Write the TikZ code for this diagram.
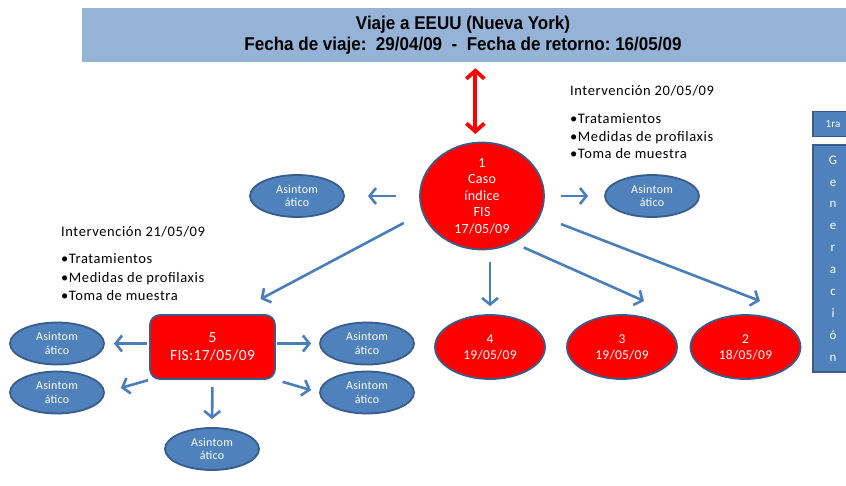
\documentclass[tikz,border=0pt]{standalone}
\usepackage{fontspec}
\setmainfont{Carlito}
\newfontfamily\bodyf[LetterSpace=2]{Carlito}
\newfontfamily\notef[LetterSpace=4]{Carlito}
\newfontfamily\titlef[FakeStretch=0.92]{Liberation Sans}
\usetikzlibrary{shapes.geometric,arrows.meta}
\definecolor{bannerc}{HTML}{95B3D7}
\definecolor{ablue}{HTML}{4F81BD}
\definecolor{bord}{HTML}{385D8A}
\definecolor{arrc}{HTML}{4A7EBB}
\definecolor{redc}{HTML}{FF0000}
\begin{document}
\begin{tikzpicture}[x=1pt,y=-1pt,
  asint/.style={ellipse, draw=bord, fill=ablue, line width=1.8pt, minimum width=94pt, minimum height=42pt, inner sep=0pt, text=white, align=center, font=\bodyf\fontsize{12}{13.5}\selectfont},
  redell/.style={ellipse, draw=bord, fill=redc, line width=1.8pt, inner sep=0pt, text=white, align=center},
  arr/.style={draw=arrc, line width=2.6pt, -{Straight Barb[length=6.5pt,width=16pt]}},
  redarr/.style={draw=redc, line width=3.8pt, {Straight Barb[length=8pt,width=18pt]}-{Straight Barb[length=8pt,width=18pt]}},
  sidebox/.style={rectangle, draw=bord, fill=ablue, line width=1.8pt, inner sep=0pt, text=white, align=center, font=\bodyf\fontsize{13}{21.9}\selectfont},
  plain/.style={anchor=west, inner sep=0pt, align=left, text=black}
]
\useasboundingbox (0,0) rectangle (846,485);

% banner
\node[rectangle, fill=bannerc, minimum width=778pt, minimum height=54pt, inner sep=0pt] (banner) at (471,35) {};
\node[align=center, inner sep=0pt, font=\titlef\bfseries\fontsize{18.5}{21}\selectfont] (title) at (463,35)
  {Viaje a EEUU (Nueva York)\\Fecha de viaje:\ \ 29/04/09\ \ -\ \ Fecha de retorno:\ 16/05/09};

% index case
\node[redell, minimum width=124pt, minimum height=102pt, font=\bodyf\fontsize{14}{16.5}\selectfont] (case) at (482,196)
  {1\\Caso\\índice\\FIS\\17/05/09};

% first level asymptomatic
\node[asint] (aL) at (297,196) {Asintom\\ático};
\node[asint] (aR) at (652,196) {Asintom\\ático};

% secondary cases
\node[redell, minimum width=110pt, minimum height=64pt, font=\bodyf\fontsize{13.5}{16}\selectfont] (n4) at (490,347) {4\\19/05/09};
\node[redell, minimum width=110pt, minimum height=64pt, font=\bodyf\fontsize{13.5}{16}\selectfont] (n3) at (622,347) {3\\19/05/09};
\node[redell, minimum width=110pt, minimum height=64pt, font=\bodyf\fontsize{13.5}{16}\selectfont] (n2) at (745.5,347) {2\\18/05/09};

\node[rectangle, rounded corners=10pt, draw=bord, fill=redc, line width=1.8pt, inner sep=0pt, minimum width=125pt, minimum height=64pt, text=white, align=center, font=\bodyf\fontsize{15.5}{18}\selectfont] (box5) at (212.5,347) {5\\FIS:17/05/09};

\node[asint] (a5lt) at (57,343.5) {Asintom\\ático};
\node[asint] (a5lb) at (57,392.5) {Asintom\\ático};
\node[asint] (a5rt) at (367,343.5) {Asintom\\ático};
\node[asint] (a5rb) at (367,392.5) {Asintom\\ático};
\node[asint] (a5b) at (212,449) {Asintom\\ático};

% interventions
\node[plain, font=\notef\fontsize{14.5}{17.5}\selectfont] (int1) at (570,91) {Intervención 20/05/09};
\node[plain, font=\notef\fontsize{14.5}{17.5}\selectfont] (bul1) at (570,136.5) {•Tratamientos\\•Medidas de profilaxis\\•Toma de muestra};
\node[plain, font=\notef\fontsize{14.5}{18.5}\selectfont] (int2) at (61,232) {Intervención 21/05/09};
\node[plain, font=\notef\fontsize{14.5}{18.5}\selectfont] (bul2) at (61,277.5) {•Tratamientos\\•Medidas de profilaxis\\•Toma de muestra};

% side boxes
\node[sidebox, minimum width=40pt, minimum height=25pt, font=\bodyf\fontsize{11}{12}\selectfont] (gen1) at (833,124) {1ra};
\node[sidebox, minimum width=40pt, minimum height=227pt] (gen2) at (833,258.5) {G\\e\\n\\e\\r\\a\\c\\i\\ó\\n};

% arrow tips that stop short of their targets
\coordinate (tip3) at (644,301);
\coordinate (tip2) at (760,301);

% connectors
\draw[redarr, shorten <=6pt, shorten >=8pt] (banner.south -| case.97) -- (case.97);
\draw[arr, shorten <=23pt, shorten >=23pt] (case.180) -- (aL.0);
\draw[arr, shorten <=16pt, shorten >=16pt] (case.0) -- (aR.180);
\draw[arr, shorten <=21pt, shorten >=32pt] (case.196) -- (box5.59);
\draw[arr, shorten <=12pt, shorten >=8pt] (n4.north |- case.south) -- (n4.north);
\draw[arr, shorten <=11pt] (case.-56) -- (tip3);
\draw[arr, shorten <=22pt] (case.-19) -- (tip2);

\draw[arr, shorten <=2pt, shorten >=9pt] (box5.west |- a5lt) -- (a5lt.east);
\draw[arr, shorten <=1pt, shorten >=8pt] (box5.east |- a5rt) -- (a5rt.west);
\draw[arr, shorten <=1pt, shorten >=16.5pt] (box5.south west) -- (a5lb.east);
\draw[arr, shorten <=7pt, shorten >=8.5pt] (box5.south east) -- (a5rb.west);
\draw[arr, shorten <=7pt, shorten >=8pt] (box5.south) -- (a5b.north);
\end{tikzpicture}
\end{document}
